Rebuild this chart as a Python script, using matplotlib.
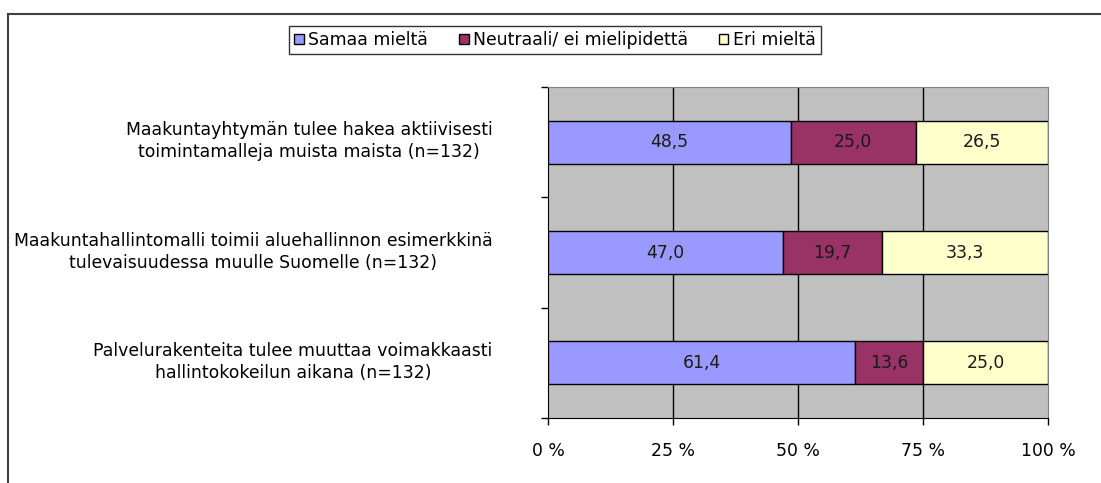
import matplotlib
matplotlib.use("Agg")
import matplotlib.pyplot as plt
from matplotlib.patches import Patch
from matplotlib.lines import Line2D
import matplotlib.transforms as mtransforms
import numpy as np

categories = [
    "Maakuntayhtymän tulee hakea aktiivisesti\ntoimintamalleja muista maista (n=132)",
    "Maakuntahallintomalli toimii aluehallinnon esimerkkinä\ntulevaisuudessa muulle Suomelle (n=132)",
    "Palvelurakenteita tulee muuttaa voimakkaasti\nhallintokokeilun aikana (n=132)",
]
series_names = ["Samaa mieltä", "Neutraali/ ei mielipidettä", "Eri mieltä"]
samaa = [48.5, 47.0, 61.4]
neutraali = [25.0, 19.7, 13.6]
eri = [26.5, 33.3, 25.0]
x_ticks = [0, 25, 50, 75, 100]
x_tick_labels = ["0 %", "25 %", "50 %", "75 %", "100 %"]

colors = ["#9999FF", "#993366", "#FFFFCC"]

plt.rcParams["font.family"] = ["DejaVu Sans"]
FS = 12.4

fig = plt.figure(figsize=(11.01, 4.83), dpi=100)
ax = fig.add_axes([548 / 1101, 1 - 418 / 483, 500 / 1101, 331 / 483])
ax.set_facecolor("#C0C0C0")

y = np.arange(len(categories))
left = np.zeros(len(categories))
for name, vals, col in zip(series_names, [samaa, neutraali, eri], colors):
    vals = np.array(vals)
    ax.barh(y, vals, left=left, height=0.39, color=col,
            edgecolor="black", linewidth=1.0, label=name, zorder=3)
    for yi, l, v in zip(y, left, vals):
        ax.text(l + v / 2, yi, f"{v:.1f}".replace(".", ","), ha="center",
                va="center", fontsize=FS, color="#1a1a1a", zorder=4)
    left = left + vals

ax.set_xlim(0, 100)
ax.set_ylim(len(categories) - 0.5, -0.5)
ax.set_xticks(x_ticks)
ax.set_xticklabels(x_tick_labels, fontsize=FS)
ax.set_yticks([-0.5, 0.5, 1.5, 2.5])
ax.set_yticklabels([])
ax.set_yticks(y, minor=True)
ax.set_yticklabels(categories, minor=True, fontsize=FS, multialignment="center",
                   linespacing=1.3)
ax.tick_params(axis="y", which="minor", length=0, pad=40)
ax.tick_params(axis="y", which="major", length=5, width=1, direction="out")
ax.tick_params(axis="x", length=5, width=1, direction="out", pad=12)
# category labels sit a little above the bar centre in the original
shift = mtransforms.ScaledTranslation(0, 5 / 100, fig.dpi_scale_trans)
for lbl in ax.get_yticklabels(minor=True):
    lbl.set_transform(lbl.get_transform() + shift)
for xv in x_ticks[1:-1]:
    ax.axvline(xv, color="black", linewidth=1.0, zorder=1)

ax.spines["left"].set_color("black")
ax.spines["bottom"].set_color("black")
ax.spines["top"].set_color("#808080")
ax.spines["right"].set_color("#808080")

handles = [Patch(facecolor=c, edgecolor="black", linewidth=1.0) for c in colors]
leg = fig.legend(handles, series_names, loc="center", bbox_to_anchor=(555 / 1101, 1 - 40 / 483),
                 ncol=3, fontsize=FS, frameon=True, fancybox=False, handlelength=0.55,
                 handleheight=0.55, handletextpad=0.25, columnspacing=1.8, borderpad=0.3)
leg.get_frame().set_edgecolor("black")
leg.get_frame().set_linewidth(1.0)

# outer chart border (only top and left visible)
fig.add_artist(Line2D([8 / 1101, 8 / 1101], [0, 1 - 14 / 483], transform=fig.transFigure,
                      color="#404040", linewidth=1.5))
fig.add_artist(Line2D([8 / 1101, 1], [1 - 14 / 483, 1 - 14 / 483], transform=fig.transFigure,
                      color="#404040", linewidth=1.5))

fig.savefig("out.png", dpi=100)
